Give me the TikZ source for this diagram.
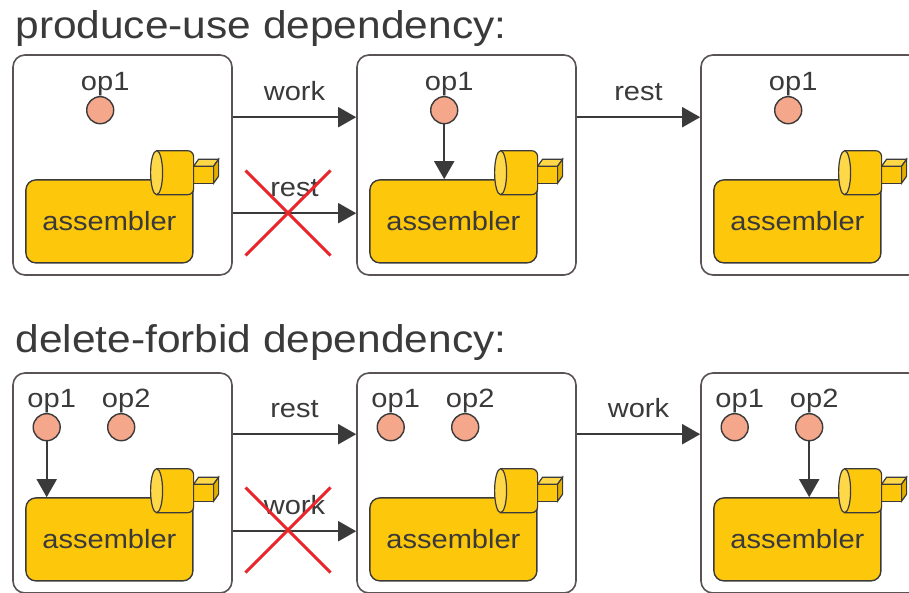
\documentclass[tikz,border=0pt]{standalone}
\usepackage{fontspec}
\setmainfont{Liberation Sans}[FakeStretch=1.1]
\usetikzlibrary{positioning,arrows.meta,shapes.misc}
\definecolor{boxgray}{HTML}{5A5353}
\definecolor{inkgray}{HTML}{3A3A3A}
\definecolor{gold}{HTML}{FDC70C}
\definecolor{goldlight}{HTML}{FFD84A}
\definecolor{golddark}{HTML}{E2AE00}
\definecolor{salmon}{HTML}{F5A78C}
\definecolor{crossred}{HTML}{E8262B}

\begin{document}
\begin{tikzpicture}[x=0.5pt,y=-0.5pt,node distance=172pt,
		every node/.style={text=inkgray},
		state node/.style={rectangle,rounded corners=6pt,draw=boxgray,line width=0.8pt,
			minimum width=109.5pt,minimum height=110pt,inner sep=0pt},
		assembler node/.style={rectangle,rounded corners=5pt,draw=inkgray,fill=gold,line width=0.7pt,
			minimum width=83.5pt,minimum height=41.5pt,inner sep=0pt,anchor=north west,
			font=\fontsize{13.2pt}{15pt}\selectfont},
		op node/.style={circle,draw=inkgray,fill=salmon,line width=0.7pt,minimum size=13.5pt,inner sep=0pt},
		op label/.style={inner sep=0pt,xshift=2.5pt,font=\fontsize{13.2pt}{15pt}\selectfont},
		flow/.style={-{Triangle[length=9pt,width=10pt]},draw=inkgray,line width=0.85pt},
		edge label/.style={midway,above=8pt,inner sep=0pt,font=\fontsize{13.2pt}{15pt}\selectfont},
		crossed/.style={cross out,draw=crossred,line width=1.5pt,minimum size=41pt,inner sep=0pt},
		heading/.style={anchor=base west,inner sep=0pt,font=\fontsize{19.3pt}{22pt}\selectfont}]
		
		\useasboundingbox (0,0) rectangle (909,593);
		
		\node[heading] (t1) at (15,39) {produce-use dependency:};
		\node[heading] (t2) at (15,352) {delete-forbid dependency:};
		
		% states
		\node[state node] (u1) at (122.5,165) {};
		\node[state node] (u2) [right of=u1] {};
		\node[state node] (u3) [right of=u2] {};
		\node[state node] (d1) at (122.5,483) {};
		\node[state node] (d2) [right of=d1] {};
		\node[state node] (d3) [right of=d2] {};
		
		% assemblers
		\foreach \s in {u1,u2,u3,d1,d2,d3} {
			\node[assembler node] (a\s) at ([xshift=6.5pt,yshift=-62.5pt]\s.north west) {assembler};
			\begin{scope}[shift={(a\s.north east)},draw=inkgray,line width=0.6pt]
				\filldraw[fill=gold] (0,-13) rectangle (20,4);
				\filldraw[fill=goldlight] (0,-13) -- (5,-20) -- (25,-20) -- (20,-13) -- cycle;
				\filldraw[fill=golddark] (20,-13) -- (25,-20) -- (25,-3) -- (20,4) -- cycle;
				\filldraw[fill=gold,rounded corners=3pt] (-37,-28.5) -- (0,-28.5) -- (0,15.5) -- (-37,15.5);
				\filldraw[fill=goldlight] (-37,-6.5) ellipse [x radius=3pt,y radius=11pt];
			\end{scope}
		}
		
		% ops
		\foreach \s in {u1,u2,u3}
			\node[op node,label={[op label]above:op1}] (\s op1) at ([xshift=44pt,yshift=-28pt]\s.north west) {};
		\foreach \s in {d1,d2,d3} {
			\node[op node,label={[op label]above:op1}] (\s op1) at ([xshift=17.25pt,yshift=-27.5pt]\s.north west) {};
			\node[op node,label={[op label]above:op2}] (\s op2) at ([xshift=54.5pt,yshift=-27.5pt]\s.north west) {};
		}
		
		\draw[flow] (u2op1) -- (u2op1 |- au2.north);
		\draw[flow] (d1op1) -- (d1op1 |- ad1.north);
		\draw[flow] (d3op2) -- (d3op2 |- ad3.north);
		
		% transitions
		\draw[flow] ([yshift=-31.5pt]u1.north east) -- node[edge label] {work} ([yshift=-31.5pt]u2.north west);
		\draw[flow] ([yshift=-79.5pt]u1.north east) -- node[edge label] {rest} ([yshift=-79.5pt]u2.north west);
		\draw[flow] ([yshift=-31.5pt]u2.north east) -- node[edge label] {rest} ([yshift=-31.5pt]u3.north west);
		\draw[flow] ([yshift=-31pt]d1.north east) -- node[edge label] {rest} ([yshift=-31pt]d2.north west);
		\draw[flow] ([yshift=-79.5pt]d1.north east) -- node[edge label] {work} ([yshift=-79.5pt]d2.north west);
		\draw[flow] ([yshift=-31pt]d2.north east) -- node[edge label] {work} ([yshift=-31pt]d3.north west);
		
		\node[crossed] (no1) at (288,213) {};
		\node[crossed] (no2) at (288,530) {};
\end{tikzpicture}
\end{document}
